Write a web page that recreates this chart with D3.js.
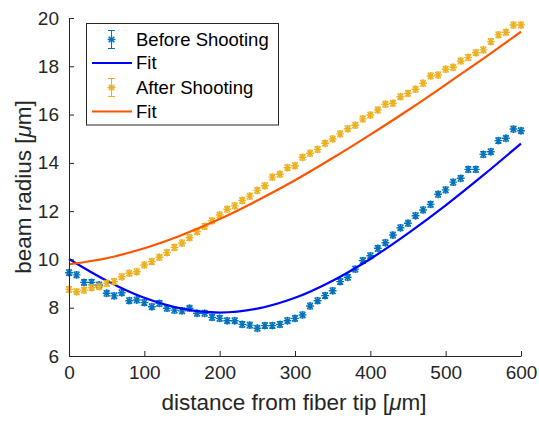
<!DOCTYPE html>
<html>
<head>
<meta charset="utf-8">
<script src="https://cdn.jsdelivr.net/npm/d3@7"></script>
<style>
  html, body { margin: 0; padding: 0; background: #fff; }
  svg { display: block; font-family: "Liberation Sans", Arial, Helvetica, sans-serif; }
</style>
</head>
<body>
<svg id="chart" width="539" height="423"></svg>
<script>
// Measured positions along the fiber axis (µm)
const distance = [0,10,20,30,40,50,60,70,80,90,100,110,120,130,140,150,160,170,180,190,200,
  210,220,230,240,250,260,270,280,290,300,310,320,330,340,350,360,370,380,390,400,
  410,420,430,440,450,460,470,480,490,500,510,520,530,540,550,560,570,580,590,600];

// Beam radius before shooting (µm)
const beforeRadius = [9.45,9.36,9.05,9.05,8.94,8.60,8.49,8.62,8.29,8.32,8.21,8.04,8.18,7.98,7.90,7.87,
  7.98,7.77,7.77,7.60,7.56,7.46,7.46,7.31,7.28,7.15,7.26,7.26,7.31,7.46,7.56,7.70,8.07,8.29,
  8.50,8.70,9.08,9.26,9.60,9.95,10.15,10.46,10.69,11.01,11.31,11.50,11.81,12.05,12.28,12.70,
  12.88,13.20,13.36,13.73,13.73,14.35,14.46,14.92,15.02,15.40,15.33];

// Beam radius after shooting (µm)
const afterRadius = [8.76,8.66,8.73,8.83,8.87,9.01,9.08,9.28,9.43,9.49,9.77,9.91,10.09,10.28,10.50,
  10.68,10.90,11.15,11.37,11.60,11.84,12.08,12.22,12.44,12.62,12.86,13.05,13.41,13.53,13.80,
  13.88,14.23,14.40,14.56,14.81,14.99,15.20,15.41,15.56,15.82,15.98,16.19,16.43,16.47,16.74,
  16.88,17.05,17.30,17.60,17.64,17.88,17.96,18.22,18.37,18.56,18.68,19.02,19.30,19.41,19.71,19.71];

// Measurement uncertainty (µm)
const beforeErr = 0.12;
const afterErr = 0.12;

// Fitted beam radius curves, sampled along the axis
const fitDistance = [0,50,100,150,200,250,300,350,400,450,500,550,600];
const beforeFit = [10.02,9.12,8.41,7.96,7.80,7.96,8.41,9.12,10.02,11.08,12.24,13.49,14.80];
const afterFit = [9.80,10.05,10.46,11.01,11.67,12.44,13.28,14.20,15.17,16.18,17.24,18.32,19.43];

// Axis ticks
const xTicks = [0,100,200,300,400,500,600];
const yTicks = [6,8,10,12,14,16,18,20];

const legendLabels = ["Before Shooting", "Fit", "After Shooting", "Fit"];

const colors = {
  before: "#0072BD",
  beforeFit: "#0000FF",
  after: "#EDB120",
  afterFit: "#FF5500",
  axis: "#262626"
};

const svg = d3.select("#chart");
const plot = { left: 69, right: 521, top: 18, bottom: 356 };

const x = d3.scaleLinear().domain([0, 600]).range([plot.left, plot.right]);
const y = d3.scaleLinear().domain([6, 20]).range([plot.bottom, plot.top]);

// Asterisk marker: plus overlaid with a cross
function asterisk(r) {
  const d = r * 0.72;
  return `M${-r},0L${r},0M0,${-r}L0,${r}M${-d},${-d}L${d},${d}M${-d},${d}L${d},${-d}`;
}

function drawSeries(values, err, color) {
  const g = svg.append("g");
  const pts = distance.map((d, i) => ({ d, v: values[i] }));
  // error bars
  g.selectAll("path.err").data(pts).join("path")
    .attr("class", "err")
    .attr("d", p => {
      const cx = x(p.d), y0 = y(p.v - err), y1 = y(p.v + err);
      return `M${cx},${y0}L${cx},${y1}M${cx - 3},${y0}L${cx + 3},${y0}M${cx - 3},${y1}L${cx + 3},${y1}`;
    })
    .attr("fill", "none").attr("stroke", color).attr("stroke-width", 1);
  // markers
  g.selectAll("path.mk").data(pts).join("path")
    .attr("class", "mk")
    .attr("transform", p => `translate(${x(p.d)},${y(p.v)})`)
    .attr("d", asterisk(3.9))
    .attr("fill", "none").attr("stroke", color).attr("stroke-width", 1.4);
}

function drawFit(values, color) {
  const line = d3.line()
    .x((d, i) => x(fitDistance[i]))
    .y(d => y(d))
    .curve(d3.curveMonotoneX);
  svg.append("path")
    .datum(values)
    .attr("d", line)
    .attr("fill", "none")
    .attr("stroke", color)
    .attr("stroke-width", 2.2);
}

drawSeries(beforeRadius, beforeErr, colors.before);
drawFit(beforeFit, colors.beforeFit);
drawSeries(afterRadius, afterErr, colors.after);
drawFit(afterFit, colors.afterFit);

// Axes (ticks point inward)
const xAxis = d3.axisBottom(x).tickValues(xTicks).tickSizeInner(-5).tickSizeOuter(0).tickPadding(10);
const yAxis = d3.axisLeft(y).tickValues(yTicks).tickSizeInner(-5).tickSizeOuter(0).tickPadding(10);

const gx = svg.append("g").attr("transform", `translate(0,${plot.bottom})`).call(xAxis);
const gy = svg.append("g").attr("transform", `translate(${plot.left},0)`).call(yAxis);

[gx, gy].forEach(g => {
  g.select(".domain").attr("stroke", colors.axis).attr("stroke-width", 1);
  g.selectAll(".tick line").attr("stroke", colors.axis).attr("stroke-width", 1);
  g.selectAll(".tick text")
    .attr("fill", colors.axis)
    .style("font-size", "19px")
    .style("font-family", "'Liberation Sans', Arial, sans-serif");
});
gx.selectAll(".tick text").attr("dy", "0.71em");

// Axis titles
const xLabel = svg.append("text")
  .attr("x", (plot.left + plot.right) / 2 - 1)
  .attr("y", 410)
  .attr("text-anchor", "middle")
  .attr("fill", colors.axis)
  .style("font-size", "22.5px");
xLabel.append("tspan").text("distance from fiber tip [");
xLabel.append("tspan").style("font-style", "italic").text("μ");
xLabel.append("tspan").text("m]");

const yLabel = svg.append("text")
  .attr("transform", `translate(31,${(plot.top + plot.bottom) / 2}) rotate(-90)`)
  .attr("text-anchor", "middle")
  .attr("fill", colors.axis)
  .style("font-size", "22.5px");
yLabel.append("tspan").text("beam radius [");
yLabel.append("tspan").style("font-style", "italic").text("μ");
yLabel.append("tspan").text("m]");

// Legend
const legend = svg.append("g");
legend.append("rect")
  .attr("x", 86.5).attr("y", 23.5).attr("width", 192).attr("height", 101.5)
  .attr("fill", "#fff").attr("stroke", colors.axis).attr("stroke-width", 1);

const rowY = [39.5, 63, 87.5, 111.5];
const legendItems = [
  { type: "err", color: colors.before },
  { type: "line", color: colors.beforeFit },
  { type: "err", color: colors.after },
  { type: "line", color: colors.afterFit }
];
legendItems.forEach((item, i) => {
  const cy = rowY[i];
  if (item.type === "err") {
    const cx = 111.5;
    legend.append("path")
      .attr("d", `M${cx},${cy - 9}L${cx},${cy + 9}M${cx - 3.5},${cy - 9}L${cx + 3.5},${cy - 9}M${cx - 3.5},${cy + 9}L${cx + 3.5},${cy + 9}`)
      .attr("fill", "none").attr("stroke", item.color).attr("stroke-width", 1);
    legend.append("path")
      .attr("transform", `translate(${cx},${cy})`)
      .attr("d", asterisk(3.9))
      .attr("fill", "none").attr("stroke", item.color).attr("stroke-width", 1.4);
  } else {
    legend.append("line")
      .attr("x1", 92).attr("x2", 132).attr("y1", cy).attr("y2", cy)
      .attr("stroke", item.color).attr("stroke-width", 2.2);
  }
  legend.append("text")
    .attr("x", 136).attr("y", cy)
    .attr("dy", "0.35em")
    .attr("fill", "#000")
    .style("font-size", "18.5px")
    .text(legendLabels[i]);
});
</script>
</body>
</html>
